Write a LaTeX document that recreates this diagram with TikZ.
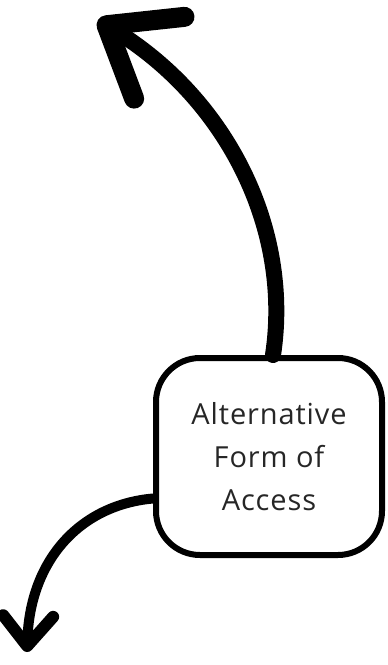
\documentclass[tikz,border=0pt]{standalone}
\usepackage{fontspec}
\setsansfont{Open Sans}[LetterSpace=3]
\usetikzlibrary{arrows.meta, positioning}

\begin{document}
\begin{tikzpicture}[x=1pt, y=-1pt,
    box/.style={draw, line width=6pt, rounded corners=44pt, minimum width=226pt,
        minimum height=197pt, inner sep=0pt, align=center, text=black!85,
        font=\sffamily\fontsize{29}{43}\selectfont},
    bigarrow/.style={line width=16pt, line cap=round,
        -{Straight Barb[length=62pt, width=96pt, round, line width=20pt]}},
    smallarrow/.style={line width=10pt, line cap=round,
        -{Straight Barb[length=30pt, width=50pt, round, line width=12pt]}}]
    % Frame
    \useasboundingbox (0,0) rectangle (388,665);

    % Box
    \node[box] (access) at (269,456.5) {Alternative\\Form of\\Access};

    % Arrows
    \coordinate (uptip) at (98,20);
    \coordinate (downtip) at (27,652);
    \draw[bigarrow] ([xshift=4pt]access.north) .. controls (292,230) and (228,100) .. (uptip);
    \draw[smallarrow] ([yshift=-42pt]access.west) .. controls (80,505) and (30,560) .. (downtip);
\end{tikzpicture}
\end{document}
